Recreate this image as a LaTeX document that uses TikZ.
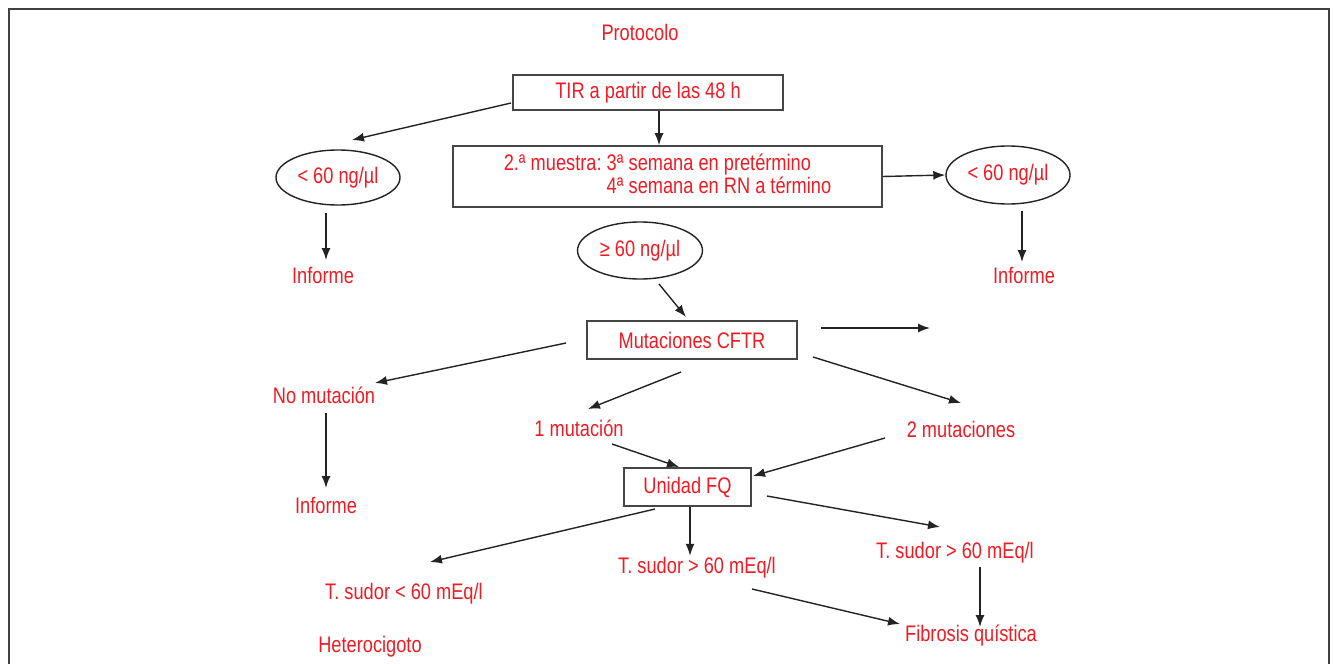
\documentclass[tikz,border=0pt]{standalone}
\usepackage{fontspec}
\setmainfont{Liberation Sans}[FakeStretch=0.81]
\usetikzlibrary{shapes.geometric,arrows.meta,calc}
\definecolor{txtred}{RGB}{237,28,36}
\definecolor{ln}{RGB}{35,35,35}
\definecolor{boxc}{RGB}{70,70,70}
\begin{document}
\begin{tikzpicture}[x=1pt,y=-1pt,
  lbl/.style={text=txtred,font=\fontsize{22.5}{21}\selectfont,inner sep=0pt},
  box/.style={lbl,draw=boxc,line width=1.6pt,rectangle},
  oval/.style={lbl,draw=ln,ellipse,line width=1.4pt},
  arr/.style={draw=ln,line width=1.4pt,-{Latex[length=12pt,width=9pt]}}]
\useasboundingbox (0,0) rectangle (1334,664);
\begin{scope}
\clip (0,0) rectangle (1334,664);
\draw[line width=2pt,draw=black!75] (9,9) rectangle (1329,720);
\end{scope}
% nodes
\node[lbl] (prot) at (640,32) {Protocolo};
\node[box,minimum width=270,minimum height=35] (tir) at (648,92.5) {TIR a partir de las 48 h};
\node[box,minimum width=429,minimum height=61] (mues) at (667.5,176.5) {\begin{tabular}{@{}l@{}l@{}}2.ª muestra:\ \mbox{} & 3ª semana en pretérmino\\ & 4ª semana en RN a término\end{tabular}};
\node[oval,minimum width=124,minimum height=55] (e1) at (338,177.5) {< 60 ng/µl};
\node[oval,minimum width=124,minimum height=58] (e2) at (1008,175) {< 60 ng/µl};
\node[lbl] (inf1) at (323,275) {Informe};
\node[lbl] (inf2) at (1024,275) {Informe};
\node[oval,minimum width=125,minimum height=57] (e3) at (640,250.5) {≥ 60 ng/µl};
\node[box,minimum width=210,minimum height=38] (cftr) at (692,340) {Mutaciones CFTR};
\node[lbl] (nomut) at (324,395) {No mutación};
\node[lbl] (inf3) at (326,505) {Informe};
\node[lbl] (m1) at (579,428) {1 mutación};
\node[lbl] (m2) at (961,429) {2 mutaciones};
\node[box,minimum width=127,minimum height=38] (fq) at (687.5,487) {Unidad FQ};
\node[lbl] (ts1) at (404,594) {T. sudor < 60 mEq/l};
\node[lbl] (het) at (370,647) {Heterocigoto};
\node[lbl] (ts2) at (697,568) {T. sudor > 60 mEq/l};
\node[lbl] (ts3) at (955,553) {T. sudor > 60 mEq/l};
\node[lbl] (fib) at (971,636) {Fibrosis quística};
% free arrow ends
\coordinate (a1s) at (511,103); \coordinate (a1e) at (352,140);
\coordinate (a3s) at (326,213); \coordinate (a3e) at (326,260);
\coordinate (a5s) at (1022,211); \coordinate (a5e) at (1022,262);
\coordinate (a6s) at (659,284); \coordinate (a6e) at (686,317);
\coordinate (a7s) at (821,328); \coordinate (a7e) at (930,328);
\coordinate (a8s) at (566,343); \coordinate (a8e) at (375,383);
\coordinate (a9s) at (326,413); \coordinate (a9e) at (326,488);
\coordinate (a10s) at (681,372); \coordinate (a10e) at (588,409);
\coordinate (a11s) at (612,444); \coordinate (a11e) at (679,467);
\coordinate (a12s) at (813,357); \coordinate (a12e) at (961,403);
\coordinate (a13s) at (885,438); \coordinate (a13e) at (753,476);
\coordinate (a14s) at (767,496); \coordinate (a14e) at (940,527);
\coordinate (a16s) at (655,509); \coordinate (a16e) at (430,562);
\coordinate (a17s) at (752,589); \coordinate (a17e) at (900,624);
\coordinate (a18s) at (980,567); \coordinate (a18e) at (980,627);
% connectors
\draw[arr] (a1s) -- (a1e);
\draw[arr] ($(tir.south)+(11,0)$) -- ($(mues.north)+(-8.5,0)$);
\draw[arr] (a3s) -- (a3e);
\draw[arr] (mues.east) -- (e2.west);
\draw[arr] (a5s) -- (a5e);
\draw[arr] (a6s) -- (a6e);
\draw[arr] (a7s) -- (a7e);
\draw[arr] (a8s) -- (a8e);
\draw[arr] (a9s) -- (a9e);
\draw[arr] (a10s) -- (a10e);
\draw[arr] (a11s) -- (a11e);
\draw[arr] (a12s) -- (a12e);
\draw[arr] (a13s) -- (a13e);
\draw[arr] (a14s) -- (a14e);
\draw[arr] ($(fq.south)+(2.5,0)$) -- ++(0,49);
\draw[arr] (a16s) -- (a16e);
\draw[arr] (a17s) -- (a17e);
\draw[arr] (a18s) -- (a18e);
\end{tikzpicture}
\end{document}
